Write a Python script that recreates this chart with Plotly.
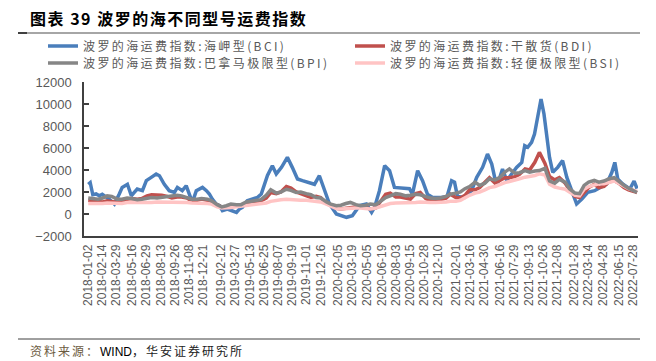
import plotly.graph_objects as go

# ---------------- data ----------------
dates = [
    "2018-01-02","2018-01-15","2018-02-01","2018-02-15","2018-03-01","2018-03-15","2018-04-01","2018-04-15",
    "2018-05-01","2018-05-15","2018-06-01","2018-06-15","2018-07-01","2018-07-15","2018-08-01","2018-08-15",
    "2018-09-01","2018-09-15","2018-10-01","2018-10-15","2018-11-01","2018-11-15","2018-12-01","2018-12-15",
    "2019-01-02","2019-01-15","2019-02-01","2019-02-15","2019-03-01","2019-03-15","2019-04-01","2019-04-15",
    "2019-05-01","2019-05-15","2019-06-01","2019-06-15","2019-07-01","2019-07-15","2019-08-01","2019-08-15",
    "2019-09-01","2019-09-15","2019-10-01","2019-10-15","2019-11-01","2019-11-15","2019-12-01","2019-12-15",
    "2020-01-02","2020-01-15","2020-02-01","2020-02-15","2020-03-01","2020-03-15","2020-04-01","2020-04-15",
    "2020-05-01","2020-05-15","2020-06-01","2020-06-15","2020-07-01","2020-07-15","2020-08-01","2020-08-15",
    "2020-09-01","2020-09-15","2020-10-01","2020-10-15","2020-11-01","2020-11-15","2020-12-01","2020-12-15",
    "2021-01-02","2021-01-15","2021-02-01","2021-02-15","2021-03-01","2021-03-15","2021-04-01","2021-04-15",
    "2021-05-01","2021-05-15","2021-06-01","2021-06-15","2021-07-01","2021-07-15","2021-08-01","2021-08-15",
    "2021-09-01","2021-09-15","2021-10-01","2021-10-15","2021-11-01","2021-11-15","2021-12-01","2021-12-15",
    "2022-01-02","2022-01-15","2022-02-01","2022-02-15","2022-03-01","2022-03-15","2022-04-01","2022-04-15",
    "2022-05-01","2022-05-15","2022-06-01","2022-06-15","2022-07-01","2022-07-15","2022-08-01","2022-08-10",
]
bdi = [
    1250,1200,1150,1100,1200,1150,1050,1100,1350,1400,1350,1400,1650,1750,1750,1700,
    1600,1450,1550,1550,1450,1150,1250,1350,
    1250,1050,750,620,650,700,750,800,950,1050,1100,1200,1450,1950,1850,2000,
    2500,2350,2000,1850,1700,1500,1600,1500,
    950,750,520,450,500,600,650,700,600,450,550,1100,1800,1900,1550,1550,
    1450,1350,1850,1950,1400,1200,1200,1300,
    1450,1800,1500,1450,1700,2200,2200,2400,2900,3300,2800,3000,3300,3300,3400,3600,
    4100,4000,4700,5600,4600,3400,3100,3300,
    2800,2200,1600,1500,2000,2400,2700,2400,2500,2900,3050,2800,2400,2200,2050,1950,
]
bpi = [
    1450,1400,1350,1450,1650,1600,1350,1350,1450,1400,1300,1350,1450,1500,1450,1500,
    1550,1600,1700,1650,1500,1350,1350,1400,
    1350,1200,850,650,750,900,850,850,1100,1150,1200,1300,1700,2200,1900,2000,
    2250,2150,1950,2000,1850,1750,1500,1450,
    1100,900,750,800,950,1050,850,750,800,900,850,1200,1500,1650,1850,1800,
    1650,1700,1800,1750,1550,1450,1400,1450,
    1600,1800,1900,2000,2300,2500,2900,2600,2800,3200,3100,3300,3800,4100,3700,3750,
    3950,3800,3900,3950,4150,3000,2800,3150,
    2900,2300,1900,1850,2600,2900,3050,2900,3000,3200,3300,2950,2600,2350,2100,1950,
]
bsi = [
    950,950,900,950,1000,1000,950,950,1050,1050,1050,1000,1050,1050,1100,1100,
    1100,1100,1100,1100,1050,1000,1000,1000,
    950,900,650,550,550,600,650,700,750,800,850,900,1000,1150,1250,1300,
    1350,1300,1300,1250,1250,1200,1150,1100,
    900,750,500,450,500,550,550,550,500,450,550,700,850,950,1000,1000,
    1000,1000,1050,1100,1050,1050,1050,1050,
    1100,1150,1150,1250,1500,1700,1900,2000,2200,2400,2500,2700,2850,2950,3050,3200,
    3350,3400,3500,3650,3550,2700,2450,2350,
    2250,2000,1700,1650,2250,2500,2650,2750,2750,2900,3000,2800,2500,2300,2150,2050,
]

bci_dates = [
    "2018-01-02","2018-01-08","2018-01-16","2018-01-26","2018-02-05","2018-02-14","2018-03-07","2018-03-23",
    "2018-04-07","2018-04-16","2018-05-02","2018-05-14","2018-05-23","2018-06-01","2018-06-17","2018-06-29",
    "2018-07-14","2018-07-29","2018-08-08","2018-08-23","2018-09-07","2018-09-23","2018-10-02","2018-10-17",
    "2018-10-29","2018-11-08","2018-11-17","2018-11-29","2018-12-08","2018-12-18","2018-12-30",
    "2019-01-08","2019-01-17","2019-01-29","2019-02-08","2019-02-17","2019-03-04","2019-03-19","2019-04-01",
    "2019-04-10","2019-04-19","2019-05-04","2019-05-20","2019-06-04","2019-06-16","2019-06-26","2019-07-05",
    "2019-07-20","2019-08-01","2019-08-17","2019-09-04","2019-09-19","2019-10-05","2019-10-20","2019-11-11",
    "2019-11-26","2019-12-11","2019-12-27",
    "2020-01-11","2020-02-01","2020-03-03","2020-03-21","2020-04-12","2020-05-03","2020-05-19","2020-05-28",
    "2020-06-12","2020-06-28","2020-07-13","2020-07-28","2020-08-19","2020-09-12","2020-09-21","2020-10-07",
    "2020-10-22","2020-11-06","2020-11-22","2020-12-19",
    "2021-01-05","2021-01-19","2021-01-28","2021-02-06","2021-02-28","2021-03-21","2021-04-06","2021-04-24",
    "2021-05-09","2021-05-22","2021-05-31","2021-06-09","2021-06-24","2021-07-07","2021-07-22","2021-08-06",
    "2021-08-22","2021-08-31","2021-09-09","2021-09-21","2021-09-30","2021-10-10","2021-10-20","2021-10-29",
    "2021-11-05","2021-11-15","2021-11-25","2021-12-10","2021-12-25",
    "2022-01-07","2022-01-22","2022-02-06","2022-02-22","2022-03-12","2022-04-02","2022-04-18","2022-05-09",
    "2022-05-25","2022-06-03","2022-06-12","2022-06-27","2022-07-19","2022-08-01","2022-08-10",
]
bci = [
    2700,2850,1750,1820,1650,1800,1360,910,
    1820,2420,2700,1660,1970,2270,2120,3030,
    3330,3640,3480,2700,2120,1970,2420,2120,
    2570,1820,1060,2120,2270,2420,2120,
    1820,1360,910,760,300,450,300,150,
    450,600,1200,1360,1500,1820,2700,3500,
    4390,3640,4240,5150,4240,3180,3030,2870,
    2700,3480,2120,
    910,0,-300,-150,760,900,150,600,
    2120,4390,3940,2420,2350,2300,1800,3940,
    3030,1800,1500,1500,
    1600,3030,2900,1600,1500,2120,3330,4240,
    5450,4540,3330,2730,4090,3030,3640,4240,
    4690,6210,6060,6510,7270,8780,10450,9090,
    7270,5150,3790,4240,4850,
    3330,2120,910,1360,1970,2120,2420,2730,
    3790,4690,3180,2730,2270,3000,2300,
]

tick_labels = [
    "2018-01-02","2018-02-14","2018-03-29","2018-05-16","2018-06-29","2018-08-13","2018-09-26","2018-11-08","2018-12-21",
    "2019-02-12","2019-03-27","2019-05-13","2019-06-25","2019-08-07","2019-09-19","2019-11-01","2019-12-16",
    "2020-02-05","2020-03-19","2020-05-05","2020-06-19","2020-08-03","2020-09-15","2020-10-28","2020-12-10",
    "2021-02-01","2021-03-16","2021-04-30","2021-06-16","2021-07-29","2021-09-13","2021-10-26","2021-12-08",
    "2022-01-28","2022-03-14","2022-04-28","2022-06-15","2022-07-28",
]

names = ["波罗的海运费指数:海岬型(BCI)", "波罗的海运费指数:干散货(BDI)",
         "波罗的海运费指数:巴拿马极限型(BPI)", "波罗的海运费指数:轻便极限型(BSI)"]
colors = ["#4A7EBB", "#C0504D", "#868686", "#FFC4C4"]

# ---------------- figure ----------------
W, H = 656, 361
L, R, T, B = 84, 18, 82, 125
PW, PH = W - L - R, H - T - B

def px(x):
    return (x - L) / PW

def py(y):
    return (H - B - y) / PH

def spaced(s, sp=2.4):
    return "<span style='letter-spacing:%spx'>%s</span>" % (sp, s)

fig = go.Figure()
fig.add_trace(go.Scatter(x=bci_dates, y=bci, name=spaced(names[0]), mode="lines",
                         line=dict(color=colors[0], width=3.5), legend="legend"))
fig.add_trace(go.Scatter(x=dates, y=bdi, name=spaced(names[1]), mode="lines",
                         line=dict(color=colors[1], width=3.5), legend="legend"))
fig.add_trace(go.Scatter(x=dates, y=bsi, name=spaced(names[3]), mode="lines",
                         line=dict(color=colors[3], width=3.5), legend="legend2"))
fig.add_trace(go.Scatter(x=dates, y=bpi, name=spaced(names[2]), mode="lines",
                         line=dict(color=colors[2], width=3.5), legend="legend2"))

cjk = "Noto Sans CJK SC"
legend_common = dict(orientation="h", xanchor="left", yanchor="middle",
                     font=dict(family=cjk, size=12, color="#595959"),
                     entrywidth=262, entrywidthmode="pixels",
                     bgcolor="rgba(0,0,0,0)", itemwidth=30)

fig.update_layout(
    width=W, height=H,
    margin=dict(l=L, r=R, t=T, b=B, autoexpand=False),
    plot_bgcolor="white", paper_bgcolor="white",
    showlegend=True,
    legend=dict(x=px(43), y=py(46), traceorder="normal", **legend_common),
    legend2=dict(x=px(43), y=py(63), traceorder="reversed", **legend_common),
    xaxis=dict(
        type="date",
        range=["2017-12-20", "2022-08-13"],
        tickvals=tick_labels, ticktext=tick_labels,
        tickangle=-90,
        tickfont=dict(family="Liberation Sans", size=12, color="#595959"),
        showline=True, linecolor="#404040", linewidth=1.5,
        showgrid=False, zeroline=False, ticks="",
        ticklabelstandoff=2, automargin=False,
    ),
    yaxis=dict(
        range=[-2000, 12000], dtick=2000, tick0=0, tickformat="d",
        tickfont=dict(family="Liberation Sans", size=13, color="#595959"),
        showline=True, linecolor="#404040", linewidth=1.5,
        ticks="inside", ticklen=5, tickcolor="#404040", tickwidth=1.5,
        showgrid=False, zeroline=False,
        ticklabelstandoff=8, automargin=False,
    ),
)

# title
fig.add_annotation(x=px(28), y=py(18), xref="paper", yref="paper",
                   text="<b>" + spaced("图表 39 波罗的海不同型号运费指数", 1.5) + "</b>",
                   showarrow=False, xanchor="left", yanchor="middle",
                   font=dict(family=cjk, size=16, color="#000000"))
# source
fig.add_annotation(x=px(28), y=py(350), xref="paper", yref="paper",
                   text="<span style='letter-spacing:2px;color:#6B5A3E'>资料来源：</span>"
                        "<span style='font-family:Liberation Sans;color:#000000'>WIND</span>"
                        "<span style='letter-spacing:2px;color:#222222'>，华安证券研究所</span>",
                   showarrow=False, xanchor="left", yanchor="middle",
                   font=dict(family=cjk, size=12, color="#222222"))
# separator lines
fig.add_shape(type="line", xref="paper", yref="paper", x0=px(18), x1=px(640), y0=py(33), y1=py(33),
              line=dict(color="#A6A6A6", width=2))
fig.add_shape(type="line", xref="paper", yref="paper", x0=px(18), x1=px(27), y0=py(33), y1=py(33),
              line=dict(color="#404040", width=2))
fig.add_shape(type="line", xref="paper", yref="paper", x0=px(18), x1=px(640), y0=py(339), y1=py(339),
              line=dict(color="#404040", width=1))

fig.write_html("out.html", config={"displayModeBar": False},
               post_script="document.body.style.margin='0';document.body.style.overflow='hidden';")
